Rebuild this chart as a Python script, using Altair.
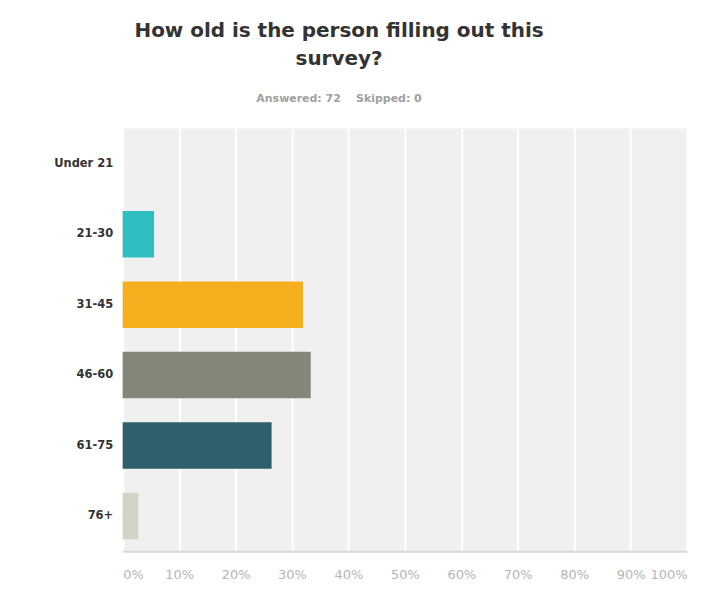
import altair as alt
import pandas as pd

categories = ["Under 21", "21-30", "31-45", "46-60", "61-75", "76+"]
percents = [0.0, 5.56, 31.94, 33.33, 26.39, 2.78]
colors = ["#2fbfc1", "#2fbfc1", "#f5ae1e", "#85867a", "#2f5f6c", "#d5d3c7"]
x_ticks = [0, 10, 20, 30, 40, 50, 60, 70, 80, 90, 100]
title_lines = ["How old is the person filling out this", "survey?"]
subtitle = "Answered: 72\u00a0\u00a0\u00a0\u00a0Skipped: 0"

df = pd.DataFrame({"age": categories, "pct": percents})

chart = alt.Chart(df).mark_bar().encode(
    x=alt.X(
        "pct:Q",
        scale=alt.Scale(domain=[0, 100], nice=False),
        axis=alt.Axis(
            values=x_ticks,
            labelExpr="datum.value + '%'",
            title=None,
            ticks=False,
            grid=True,
            gridColor="#ffffff",
            gridWidth=2,
            domain=True,
            domainColor="#d8d8d8",
            domainWidth=2,
            labelFont="DejaVu Sans",
            labelFontSize=13,
            labelColor="#b5b5b5",
            labelPadding=17,
        ),
    ),
    y=alt.Y(
        "age:N",
        sort=categories,
        scale=alt.Scale(paddingInner=0.34, paddingOuter=0.17),
        axis=alt.Axis(
            title=None,
            ticks=False,
            domain=False,
            grid=False,
            labelFont="DejaVu Sans",
            labelFontWeight="bold",
            labelFontSize=11.5,
            labelColor="#333333",
            labelPadding=10,
        ),
    ),
    color=alt.Color(
        "age:N",
        scale=alt.Scale(domain=categories, range=colors),
        legend=None,
    ),
).properties(
    width=566,
    height=424,
    autosize="none",
    padding={"left": 115, "top": 120, "right": 8, "bottom": 40},
    title=alt.TitleParams(
        text=title_lines,
        subtitle=subtitle,
        anchor="middle",
        dx=-66,
        offset=25,
        font="DejaVu Sans",
        fontSize=20,
        fontWeight="bold",
        color="#333333",
        lineHeight=28,
        subtitleFont="DejaVu Sans",
        subtitleFontSize=11,
        subtitleFontWeight="bold",
        subtitleColor="#a0a0a0",
        subtitlePadding=24,
    ),
).configure_view(
    fill="#f0f0f0",
    stroke=None,
)

chart.save("out.html", embed_options={"renderer": "svg", "actions": False})
